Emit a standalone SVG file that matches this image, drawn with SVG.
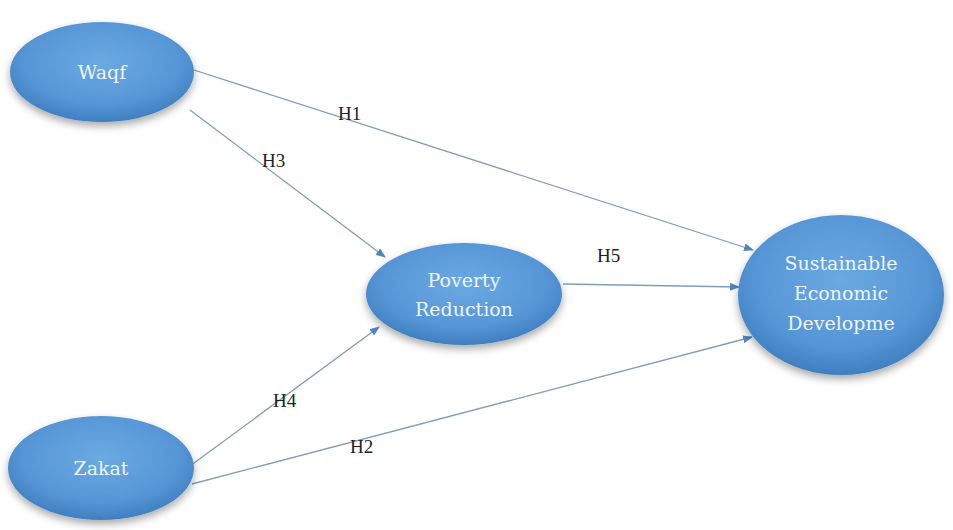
<svg xmlns="http://www.w3.org/2000/svg" width="953" height="530" viewBox="0 0 953 530">
<defs>
<radialGradient id="g" cx="50%" cy="40%" r="60%">
<stop offset="0" stop-color="#6aa9e2"/>
<stop offset="0.7" stop-color="#5796d6"/>
<stop offset="1" stop-color="#3f7fc0"/>
</radialGradient>
<filter id="sh" x="-20%" y="-20%" width="140%" height="150%">
<feGaussianBlur in="SourceAlpha" stdDeviation="4"/>
<feOffset dx="0" dy="4" result="b"/>
<feComponentTransfer><feFuncA type="linear" slope="0.35"/></feComponentTransfer>
<feMerge><feMergeNode/><feMergeNode in="SourceGraphic"/></feMerge>
</filter>
<marker id="ah" markerWidth="10" markerHeight="8" refX="9" refY="4" orient="auto" markerUnits="userSpaceOnUse">
<path d="M0,0 L10,4 L0,8 Z" fill="#4f86bf"/>
</marker>
</defs>
<style>
.node ellipse{fill:url(#g);filter:url(#sh)}
.node text{font-family:"DejaVu Serif","Liberation Serif",serif;font-size:19px;fill:#eef5fc;text-anchor:middle}
.edge{stroke:#7f9dbb;stroke-width:1.3;fill:none;marker-end:url(#ah)}
.lbl{font-family:"Liberation Serif",serif;font-size:19px;fill:#222}
</style>
<rect width="953" height="530" fill="#ffffff"/>
<g id="connectors">
<line class="edge" x1="194" y1="70" x2="753" y2="250"/>
<line class="edge" x1="190" y1="110" x2="385" y2="257"/>
<line class="edge" x1="563" y1="284" x2="739" y2="287"/>
<line class="edge" x1="190" y1="466" x2="379" y2="327"/>
<line class="edge" x1="192" y1="484" x2="752" y2="337"/>
<text class="lbl" x="338" y="120">H1</text>
<text class="lbl" x="262" y="167">H3</text>
<text class="lbl" x="597" y="262">H5</text>
<text class="lbl" x="273" y="407">H4</text>
<text class="lbl" x="350" y="453">H2</text>
</g>
<g id="waqf" class="node">
<ellipse cx="102" cy="72" rx="92" ry="50"/>
<text x="102" y="79">Waqf</text>
</g>
<g id="zakat" class="node">
<ellipse cx="101" cy="468" rx="93" ry="52"/>
<text x="101" y="475">Zakat</text>
</g>
<g id="poverty" class="node">
<ellipse cx="464" cy="294" rx="98" ry="51"/>
<text x="464" y="287">Poverty</text>
<text x="464" y="316">Reduction</text>
</g>
<g id="sed" class="node">
<ellipse cx="841" cy="295" rx="103" ry="80"/>
<text x="841" y="270">Sustainable</text>
<text x="841" y="300">Economic</text>
<text x="841" y="330">Developme</text>
</g>
</svg>
